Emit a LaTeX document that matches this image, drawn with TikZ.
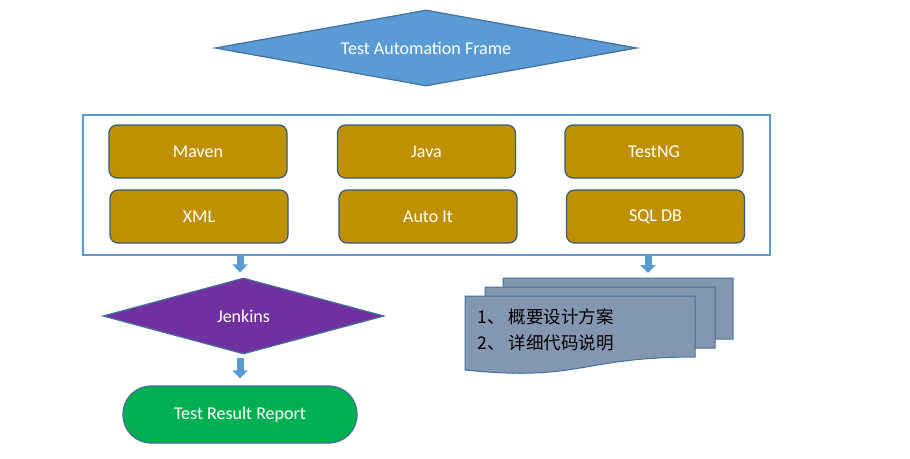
\documentclass[tikz,border=0pt]{standalone}
\usepackage{fontspec}
\setmainfont{Carlito}
\newfontfamily\cjk{Noto Sans CJK SC}
\usepackage{xcolor}
\usetikzlibrary{shapes.geometric, arrows.meta, positioning}

\definecolor{blueF}{HTML}{5B9BD5}
\definecolor{blueD}{HTML}{41719C}
\definecolor{goldF}{HTML}{BF9000}
\definecolor{purpF}{HTML}{7030A0}
\definecolor{greenF}{HTML}{00B050}
\definecolor{slateF}{HTML}{8497B0}

\newcommand{\docpage}[2]{%
  \filldraw[docpg] (#1,#2) -- ++(230,0) -- (#1+230,#2+61)
    .. controls (#1+115,#2+61) and (#1+115,#2+86) .. (#1,#2+74) -- cycle;}

\begin{document}
\begin{tikzpicture}[
    x=1pt, y=-1pt,
    font=\fontsize{18}{21}\selectfont,
    diam/.style={
        diamond,
        draw=blueD,
        line width=1.2pt,
        inner sep=0pt,
        text=white
    },
    box/.style={
        rectangle,
        draw=blueD!80!black,
        fill=goldF,
        line width=1.2pt,
        rounded corners=8pt,
        minimum height=53pt,
        minimum width=178pt,
        text=white
    },
    frame/.style={
        rectangle,
        draw=blueF,
        line width=2pt,
        minimum width=687pt,
        minimum height=140pt
    },
    docpg/.style={
        fill=slateF,
        draw=blueD,
        line width=1pt
    },
    blk/.style={
        draw=blueF,
        line width=7pt,
        -{Triangle[width=15pt, length=8pt]}
    }
]
  \useasboundingbox (0,0) rectangle (910,458);

  \node[diam, fill=blueF, aspect=5.5, minimum width=422pt, minimum height=76pt] (taf) at (426,48) {Test Automation Frame};

  \node[frame] (frame) at (426.5,185) {};
  \node[box] (maven) at (198,151.5) {Maven};
  \node[box] (java) at (426.5,151.5) {Java};
  \node[box] (testng) at (654,151.5) {TestNG};
  \node[box] (xml) at (199,216.5) {XML};
  \node[box] (autoit) at (428,216.5) {Auto It};
  \node[box] (sqldb) at (655.5,216.5) {SQL DB};

  \node[diam, fill=purpF, aspect=3.7, minimum width=281pt, minimum height=76pt] (jenkins) at (243.5,316) {Jenkins};

  \node[rectangle, rounded corners=28pt, draw=blueD, fill=greenF, line width=1.2pt,
        minimum width=234pt, minimum height=57pt, text=white] (report) at (240,414.5) {Test Result Report};

  % multi document
  \docpage{503}{278}
  \docpage{485}{287}
  \docpage{465}{296}
  \coordinate (docs) at (648,278);
  \node[anchor=west, font=\cjk\fontsize{17.5}{21}\selectfont] (doc1) at (474,317) {1、 概要设计方案};
  \node[anchor=west, font=\cjk\fontsize{17.5}{21}\selectfont] (doc2) at (474,343) {2、 详细代码说明};

  \draw[blk, shorten >=5pt] (frame.south -| 240,0) -- (jenkins.north -| 240,0);
  \draw[blk, shorten >=5pt] (frame.south -| docs) -- (docs);
  \draw[blk, shorten <=3pt, shorten >=7pt] (jenkins.south -| 240,0) -- (report.north);
\end{tikzpicture}
\end{document}
